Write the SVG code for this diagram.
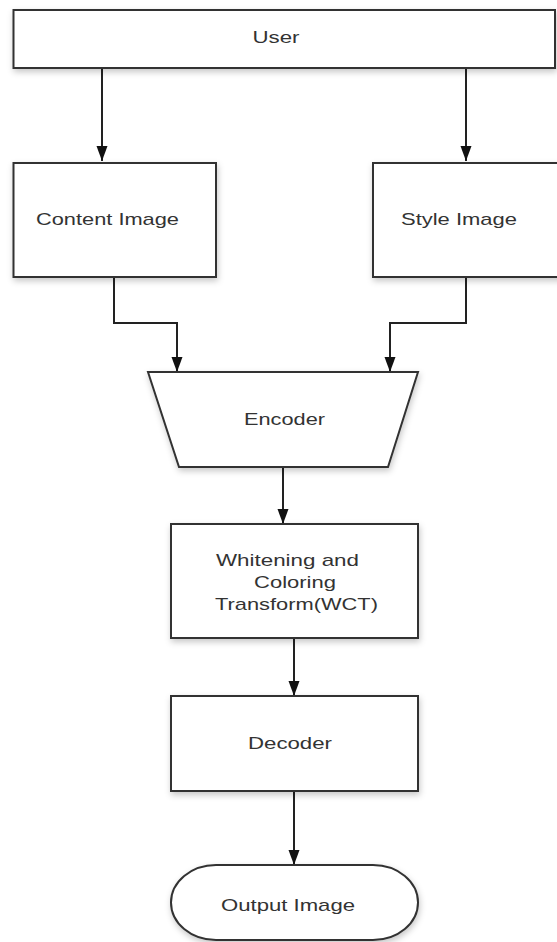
<svg xmlns="http://www.w3.org/2000/svg" width="557" height="942" viewBox="0 0 557 942">
<style>
.shape{fill:#fff;stroke:#333;stroke-width:2;filter:url(#sh)}
.lbl{font-family:"Liberation Sans",Arial,sans-serif;font-size:17px;fill:#333;text-anchor:middle}
.con{fill:none;stroke:#222;stroke-width:2}
</style>
<defs>
<filter id="sh" x="-10%" y="-10%" width="130%" height="140%">
<feDropShadow dx="1" dy="3" stdDeviation="3" flood-color="#000" flood-opacity="0.22"/>
</filter>
</defs>
<rect width="557" height="942" fill="#fff"/>
<g id="connectors">
<path class="con" d="M102,68 V161"/>
<path class="con" d="M466,68 V161"/>
<path class="con" d="M114,277 V323 H177 V371"/>
<path class="con" d="M466,277 V323 H390 V371"/>
<path class="con" d="M283,467 V523"/>
<path class="con" d="M294,638 V695"/>
<path class="con" d="M294,791 V864"/>
<g fill="#111">
<path d="M96.5,146 L107.5,146 L102,161 Z"/>
<path d="M460.5,146 L471.5,146 L466,161 Z"/>
<path d="M171.5,357 L182.5,357 L177,372 Z"/>
<path d="M384.5,357 L395.5,357 L390,372 Z"/>
<path d="M277.5,509 L288.5,509 L283,524 Z"/>
<path d="M288.5,681 L299.5,681 L294,696 Z"/>
<path d="M288.5,850 L299.5,850 L294,865 Z"/>
</g>
</g>
<g id="user">
<rect class="shape" x="13.5" y="10" width="541.5" height="58"/>
<text class="lbl" x="276" y="43" textLength="47" lengthAdjust="spacingAndGlyphs">User</text>
</g>
<g id="content">
<rect class="shape" x="13.5" y="163" width="202.5" height="114"/>
<text class="lbl" x="107.5" y="224.5" textLength="143" lengthAdjust="spacingAndGlyphs">Content Image</text>
</g>
<g id="style">
<rect class="shape" x="373" y="163" width="190" height="114"/>
<text class="lbl" x="459" y="224.5" textLength="116" lengthAdjust="spacingAndGlyphs">Style Image</text>
</g>
<g id="encoder">
<path class="shape" d="M148,372 H418 L388,467 H179 Z"/>
<text class="lbl" x="284.5" y="425" textLength="81" lengthAdjust="spacingAndGlyphs">Encoder</text>
</g>
<g id="wct">
<rect class="shape" x="171" y="524" width="247" height="114"/>
<text class="lbl" x="287.5" y="566" textLength="143" lengthAdjust="spacingAndGlyphs">Whitening and</text>
<text class="lbl" x="295" y="588" textLength="82" lengthAdjust="spacingAndGlyphs">Coloring</text>
<text class="lbl" x="296.5" y="610" textLength="163" lengthAdjust="spacingAndGlyphs">Transform(WCT)</text>
</g>
<g id="decoder">
<rect class="shape" x="171" y="696" width="247" height="95"/>
<text class="lbl" x="290" y="749" textLength="84" lengthAdjust="spacingAndGlyphs">Decoder</text>
</g>
<g id="output">
<rect class="shape" x="171" y="865" width="247" height="75" rx="45" ry="37.5"/>
<text class="lbl" x="288" y="910.5" textLength="134" lengthAdjust="spacingAndGlyphs">Output Image</text>
</g>
</svg>
